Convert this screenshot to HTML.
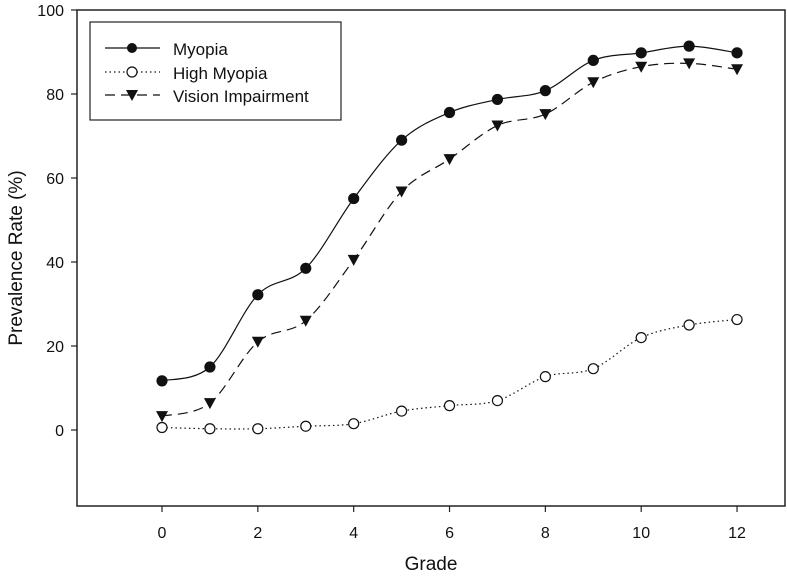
<!DOCTYPE html>
<html><head><meta charset="utf-8"><style>
body{margin:0;background:#fff;}
svg text{font-family:"Liberation Sans",Arial,sans-serif;fill:#111;}
</style></head><body>
<svg id="chart" width="787" height="575">
<rect x="77" y="10" width="708" height="496" fill="none" stroke="#222" stroke-width="1.5"/>
<g id="axes"></g><g id="series"></g>
<text x="22" y="258" font-size="19" text-anchor="middle" transform="rotate(-90 22 258)">Prevalence Rate (%)</text>
<text x="431" y="570" font-size="19" text-anchor="middle">Grade</text>
<g>
<rect x="90" y="22" width="251" height="98" fill="#fff" stroke="#222" stroke-width="1.2"/>
<line x1="105" y1="48" x2="160" y2="48" stroke="#111" stroke-width="1.2"/>
<circle cx="132" cy="48" r="5" fill="#111"/>
<text x="173" y="55" font-size="17">Myopia</text>
<line x1="105" y1="72" x2="160" y2="72" stroke="#111" stroke-width="1.2" stroke-dasharray="1.5,3"/>
<circle cx="132" cy="72" r="5" fill="#fff" stroke="#111" stroke-width="1.2"/>
<text x="173" y="79" font-size="17">High Myopia</text>
<line x1="105" y1="95" x2="160" y2="95" stroke="#111" stroke-width="1.2" stroke-dasharray="10,6"/>
<path d="M126,90 L138,90 L132,101 Z" fill="#111"/>
<text x="173" y="102" font-size="17">Vision Impairment</text>
</g>
</svg>
<script>
const grades=[0,1,2,3,4,5,6,7,8,9,10,11,12];
const myopia=[11.7,15,32.2,38.5,55.1,69,75.6,78.7,80.8,88,89.8,91.4,89.8];
const highMyopia=[0.6,0.3,0.3,0.9,1.5,4.5,5.8,7,12.7,14.6,22,25,26.3];
const visionImp=[3.3,6.4,21,26,40.5,56.8,64.5,72.5,75.2,82.8,86.5,87.3,85.9];
const xTicks=[0,2,4,6,8,10,12];
const yTicks=[0,20,40,60,80,100];
const NS='http://www.w3.org/2000/svg';
const xs=g=>162+g*47.92;
const ys=v=>430-v*4.2;
function mk(t,a,p){const e=document.createElementNS(NS,t);for(const k in a)e.setAttribute(k,a[k]);p.appendChild(e);return e;}
const axes=document.getElementById('axes'),ser=document.getElementById('series');
xTicks.forEach(t=>{
 const l=mk('line',{x1:xs(t),x2:xs(t),y1:506,y2:512,stroke:'#222','stroke-width':1.2},axes);
 
 
 const tx=mk('text',{x:xs(t),y:538,'font-size':16,'text-anchor':'middle'},axes);tx.textContent=t;
 
 
});
yTicks.forEach(t=>{
 const l=mk('line',{x1:71,x2:77,y1:ys(t),y2:ys(t),stroke:'#222','stroke-width':1.2},axes);
 
 
 const tx=mk('text',{x:64,y:ys(t)+6,'font-size':16,'text-anchor':'end'},axes);tx.textContent=t;
 
 
});
function smooth(vals){
 const p=grades.map((g,i)=>[xs(g),ys(vals[i])]);let d='M'+p[0][0]+','+p[0][1];
 for(let i=0;i<p.length-1;i++){const p0=p[Math.max(0,i-1)],p1=p[i],p2=p[i+1],p3=p[Math.min(p.length-1,i+2)];
 d+=' C'+(p1[0]+(p2[0]-p0[0])/6)+','+(p1[1]+(p2[1]-p0[1])/6)+' '+(p2[0]-(p3[0]-p1[0])/6)+','+(p2[1]-(p3[1]-p1[1])/6)+' '+p2[0]+','+p2[1];}
 return d;}
function draw(vals,name,dash,marker){
 const path=mk('path',{d:smooth(vals),fill:'none',stroke:'#111','stroke-width':1.2,'stroke-dasharray':dash},ser);
 
 
 vals.forEach((v,i)=>{const x=xs(grades[i]),y=ys(v);let m;
  if(marker==='tri')m=mk('path',{d:`M${x-6},${y-5} L${x+6},${y-5} L${x},${y+6} Z`,fill:'#111'},ser);
  else m=mk('circle',{cx:x,cy:y,r:5,fill:marker==='fill'?'#111':'#fff',stroke:'#111','stroke-width':1.2},ser);
  
  });
}
draw(highMyopia,'high-myopia','1.5,3','open');
draw(visionImp,'vision-impairment','10,6','tri');
draw(myopia,'myopia','none','fill');
</script>
</body></html>
